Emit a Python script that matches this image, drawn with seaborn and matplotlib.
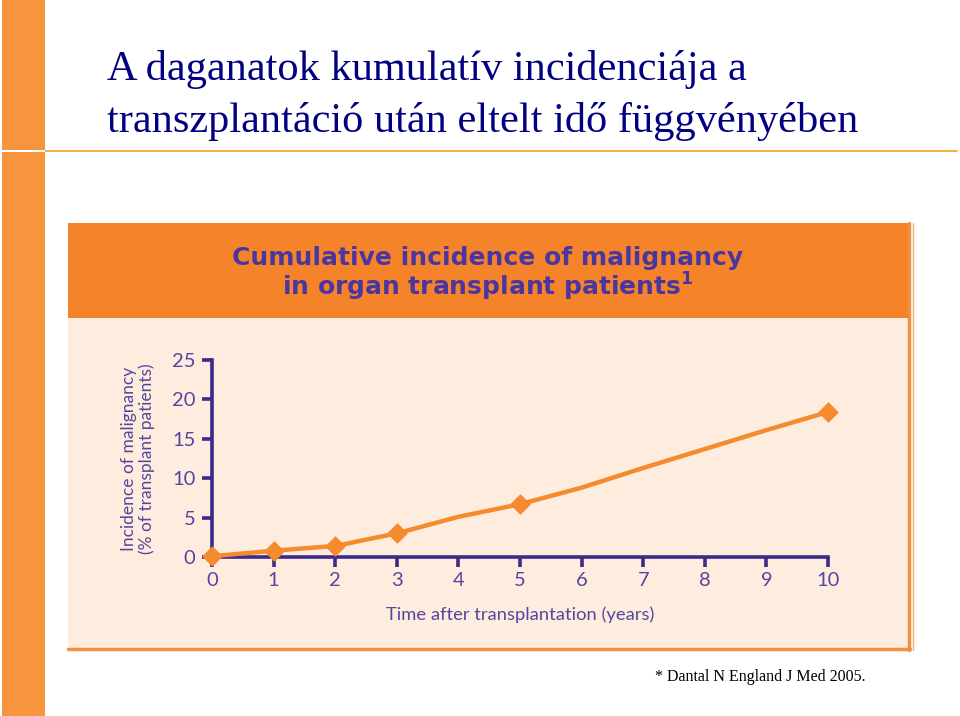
import matplotlib
matplotlib.use("Agg")
import matplotlib.pyplot as plt
from matplotlib.patches import Rectangle
from matplotlib.lines import Line2D
import seaborn as sns
import pandas as pd

# ---- data ----
years = [0, 1, 2, 3, 4, 5, 6, 7, 8, 9, 10]
incidence = [0.1, 0.8, 1.4, 3.0, 5.1, 6.7, 8.8, 11.3, 13.7, 16.1, 18.4]
marker_years = [0, 1, 2, 3, 5, 10]
marker_values = [0.1, 0.8, 1.4, 3.0, 6.7, 18.4]
x_ticks = [0, 1, 2, 3, 4, 5, 6, 7, 8, 9, 10]
y_ticks = [0, 5, 10, 15, 20, 25]

slide_title_1 = "A daganatok kumulatív incidenciája a"
slide_title_2 = "transzplantáció után eltelt idő függvényében"
chart_title_1 = "Cumulative incidence of malignancy"
chart_title_2 = "in organ transplant patients"
x_label = "Time after transplantation (years)"
y_label = "Incidence of malignancy\n(% of transplant patients)"
footnote = "* Dantal N England J Med 2005."

sns.set_theme(style="white")
plt.rcParams['font.family'] = ['Lato', 'DejaVu Sans']

W, H = 960, 716
ORANGE = "#F5832A"
PEACH = "#FEEDDF"
PURPLE = "#3A2A8A"
TICKC = "#5446A0"
NAVY = "#000080"

fig = plt.figure(figsize=(W / 100, H / 100), dpi=100)
fig.patch.set_facecolor("white")

def fx(px):
    return px / W

def fy(py):
    return 1 - py / H

# left orange bar
fig.patches.append(Rectangle((fx(2), fy(716)), fx(43), fy(0) - fy(716),
                             transform=fig.transFigure, facecolor="#F7953F", edgecolor="none", zorder=0))
fig.patches.append(Rectangle((fx(2), fy(152)), fx(43), fy(150) - fy(152),
                             transform=fig.transFigure, facecolor="white", edgecolor="none", zorder=1))
fig.lines.append(Line2D([fx(45), fx(957)], [fy(151), fy(151)], transform=fig.transFigure,
                        color="#F2A93B", lw=1.3, zorder=1))

# chart panel
fig.patches.append(Rectangle((fx(68), fy(649)), fx(910) - fx(68), fy(223) - fy(649),
                             transform=fig.transFigure, facecolor=PEACH, edgecolor="none", zorder=0))
fig.patches.append(Rectangle((fx(68), fy(318)), fx(910) - fx(68), fy(223) - fy(318),
                             transform=fig.transFigure, facecolor=ORANGE, edgecolor="none", zorder=1))
fig.lines.append(Line2D([fx(909), fx(909)], [fy(223), fy(650)], transform=fig.transFigure,
                        color="#F09040", lw=2.5, zorder=2))
fig.lines.append(Line2D([fx(913), fx(913)], [fy(223), fy(650)], transform=fig.transFigure,
                        color="#F3B070", lw=1, zorder=2))
fig.lines.append(Line2D([fx(68), fx(910)], [fy(648.5), fy(648.5)], transform=fig.transFigure,
                        color="#F09040", lw=2.5, zorder=2))

# slide title
fig.text(fx(107), fy(80), slide_title_1, ha="left", va="baseline", fontsize=30.5,
         family=["Liberation Serif"], color=NAVY)
fig.text(fx(107), fy(132), slide_title_2, ha="left", va="baseline", fontsize=30.5,
         family=["Liberation Serif"], color=NAVY)

# chart title
fig.text(fx(488), fy(258), chart_title_1, ha="center", va="center", fontsize=18,
         fontweight="bold", color="#4B36A0", family=["DejaVu Sans"])
fig.text(fx(488), fy(287), chart_title_2 + r"$^{\mathbf{1}}$", ha="center", va="center", fontsize=18,
         fontweight="bold", color="#4B36A0", family=["DejaVu Sans"])

# footnote
fig.text(fx(655), fy(681), footnote, ha="left", va="baseline", fontsize=11.5,
         family=["Liberation Serif"], color="black")

# axes
ax = fig.add_axes([fx(212), fy(557), fx(828) - fx(212), fy(360) - fy(557)])
ax.set_zorder(5)
ax.set_facecolor("none")
df_line = pd.DataFrame({"year": years, "incidence": incidence})
df_mark = pd.DataFrame({"year": marker_years, "incidence": marker_values})
sns.lineplot(data=df_line, x="year", y="incidence", ax=ax, color="#F58A2E", lw=3.2,
             clip_on=False, zorder=3)
sns.scatterplot(data=df_mark, x="year", y="incidence", ax=ax, marker="D", s=95,
                color="#F58A2E", edgecolor="#F58A2E", clip_on=False, zorder=4)
ax.set_xlim(0, 10)
ax.set_ylim(0, 25)
ax.set_xticks(x_ticks)
ax.set_yticks(y_ticks)
for s in ["top", "right"]:
    ax.spines[s].set_visible(False)
for s in ["left", "bottom"]:
    ax.spines[s].set_color(PURPLE)
    ax.spines[s].set_linewidth(2.6)
    ax.spines[s].set_zorder(2)
ax.tick_params(axis="both", bottom=True, left=True, colors=PURPLE, width=2.6, length=7,
               direction="out", labelsize=14.5, labelcolor=TICKC)
ax.tick_params(axis="y", pad=5)
ax.tick_params(axis="x", pad=4)
ax.set_xlabel(x_label, fontsize=13.2, color=TICKC, labelpad=12)
ax.set_ylabel(y_label, fontsize=12.5, color=TICKC, labelpad=12, linespacing=1.1)
ax.grid(False)

fig.savefig("out.png", dpi=100, facecolor="white")
